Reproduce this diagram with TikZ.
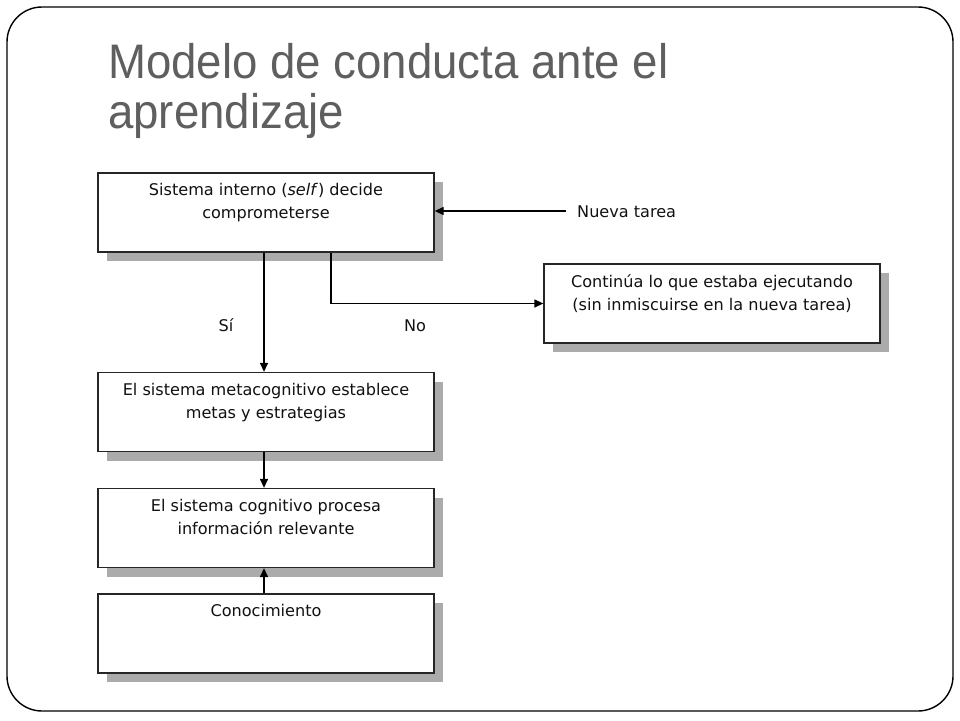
\documentclass[tikz,border=0pt]{standalone}
\usepackage{fontspec}
\usetikzlibrary{arrows.meta,shadows}
\newfontfamily\titlefont[FakeStretch=0.94]{Liberation Sans}
\newfontfamily\boxfont{DejaVu Sans}
\definecolor{titlegray}{HTML}{5F5F5F}
\definecolor{boxtxt}{HTML}{111111}
\definecolor{shadowgray}{HTML}{ABABAB}
\tikzset{
  frame/.style={draw=black, line width=1.4pt, rounded corners=35pt},
  titletext/.style={anchor=base west, inner sep=0pt, text=titlegray, font=\titlefont\fontsize{48.5}{49}\selectfont},
  flowbox/.style={draw=black!85, line width=1.3pt, fill=white, minimum width=336pt, minimum height=79pt, inner sep=0pt,
    drop shadow={shadow xshift=9pt, shadow yshift=-9pt, fill=shadowgray, opacity=1}},
  boxtext/.style={anchor=north, inner sep=0pt, align=center, text=boxtxt, font=\boxfont\fontsize{16.1}{23}\selectfont},
  lbl/.style={inner sep=0pt, text=boxtxt, font=\boxfont\fontsize{16.1}{23}\selectfont},
  conn/.style={draw=black, line width=1.3pt, -{Triangle[length=9pt,width=8pt]}}
}
\begin{document}
\begin{tikzpicture}[x=1pt,y=-1pt]
\useasboundingbox (0,0) rectangle (960,720);
\draw[frame] (7,7) rectangle (953,711);
\node[titletext] (t1) at (108,78) {Modelo de conducta ante el};
\node[titletext] (t2) at (108,128) {aprendizaje};

\node[flowbox] (b1) at (266,212.5) {};
\node[flowbox] (b2) at (712,303.5) {};
\node[flowbox] (b3) at (266,412) {};
\node[flowbox] (b4) at (266,528) {};
\node[flowbox] (b5) at (266,633.5) {};

\node[boxtext] (x1) at ([yshift=-11pt]b1.north) {Sistema interno (\textit{self}) decide\\comprometerse};
\node[boxtext] (x2) at ([yshift=-11pt]b2.north) {Continúa lo que estaba ejecutando\\(sin inmiscuirse en la nueva tarea)};
\node[boxtext] (x3) at ([yshift=-11pt]b3.north) {El sistema metacognitivo establece\\metas y estrategias};
\node[boxtext] (x4) at ([yshift=-11pt]b4.north) {El sistema cognitivo procesa\\información relevante};
\node[boxtext] (x5) at ([yshift=-11pt]b5.north) {Conocimiento};

\coordinate (nt) at (566,211);
\node[lbl, anchor=west] (ntl) at (577,212) {Nueva tarea};
\node[lbl] (si) at (226,325) {Sí};
\node[lbl] (no) at (415,326) {No};

\draw[conn] (nt) -- (nt -| b1.east);
\draw[conn] ([xshift=-2pt]b1.south) -- ([xshift=-2pt]b3.north);
\draw[conn] ([xshift=65pt]b1.south) |- (b2.west);
\draw[conn] ([xshift=-2pt]b3.south) -- ([xshift=-2pt]b4.north);
\draw[conn] ([xshift=-2pt]b5.north) -- ([xshift=-2pt]b4.south);
\end{tikzpicture}
\end{document}
